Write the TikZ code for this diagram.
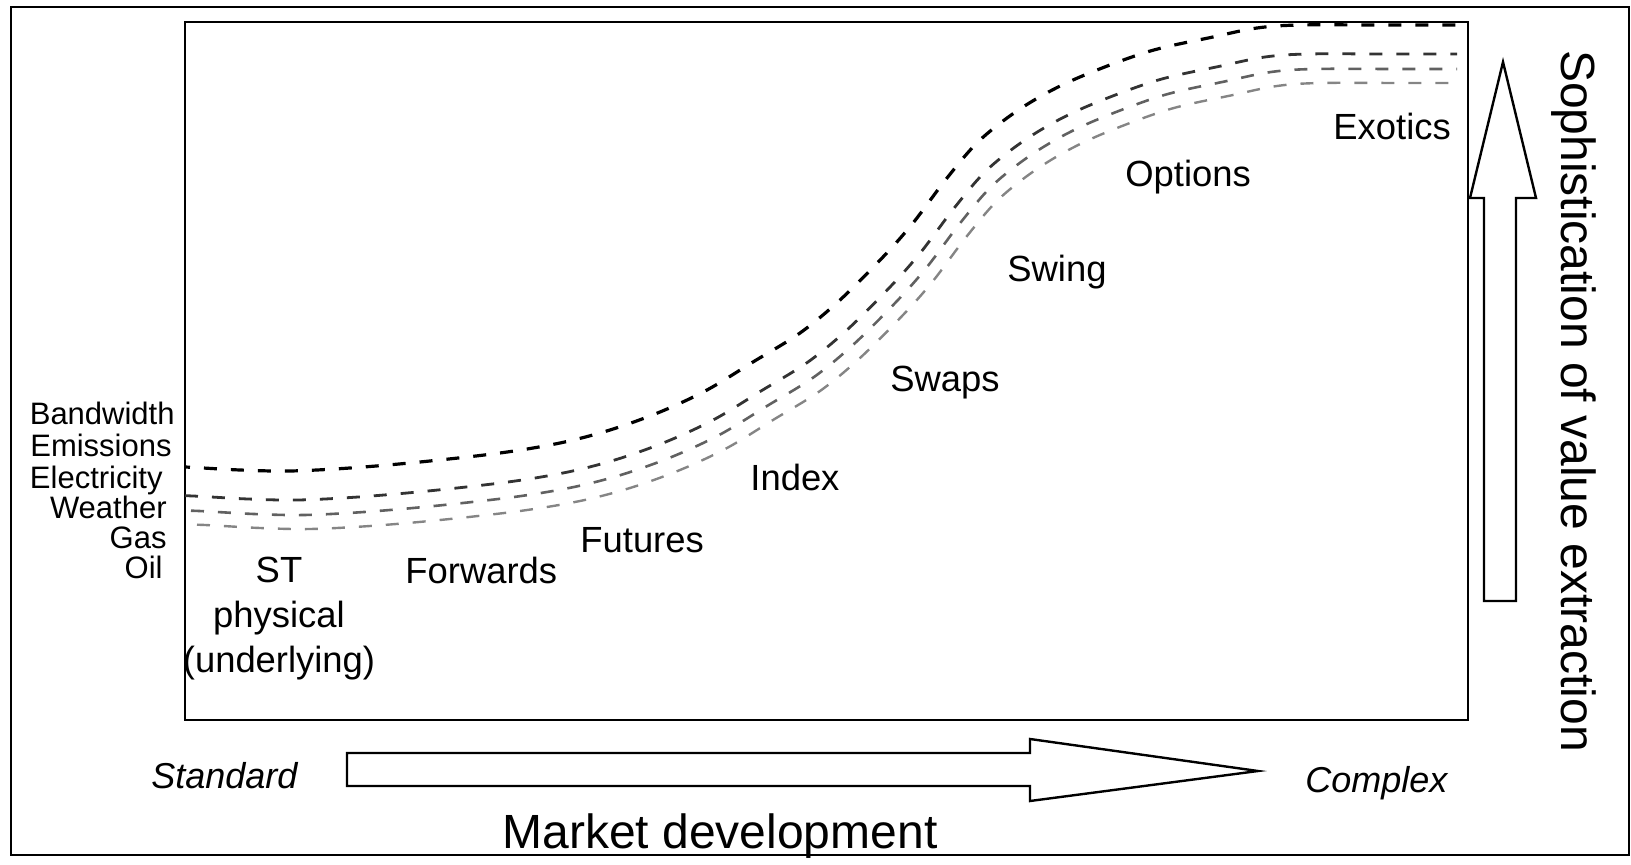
\documentclass[tikz,border=0pt]{standalone}
\usepackage{fontspec}
\setmainfont{Liberation Sans}
\tikzset{
  frame/.style={draw=black, line width=1pt},
  bigarrow/.style={draw=black, line width=1.2pt, fill=white, line join=miter},
  lbl/.style={font=\fontsize{18.2}{22.4}\selectfont, inner sep=0pt},
  mkt/.style={font=\fontsize{15.5}{18}\selectfont, inner sep=0pt, anchor=base east},
  axislbl/.style={font=\fontsize{18}{22}\selectfont\itshape, inner sep=0pt, anchor=base west},
  bigtitle/.style={font=\fontsize{24}{28}\selectfont, inner sep=0pt},
  crvA/.style={draw=black, line width=1.6pt, dash pattern=on 6.5pt off 7pt},
  crvB/.style={draw=black!80, line width=1.4pt, dash pattern=on 6.5pt off 7pt},
  crvC/.style={draw=black!62, line width=1.3pt, dash pattern=on 6.5pt off 7pt},
  crvD/.style={draw=black!48, line width=1.2pt, dash pattern=on 6.5pt off 7pt},
}
\def\curvepath{plot[smooth, tension=0.55] coordinates {(150,466) (185,467) (240,470) (290,471) (350,468) (420,462) (500,453) (560,443) (610,430) (660,412) (707,390) (753,362) (800,333) (840,300) (883,257) (913,223) (947,178) (980,140) (1023,107) (1073,80) (1147,52) (1213,37) (1257,28) (1300,25) (1380,25) (1480,25)}}
\begin{document}
\begin{tikzpicture}[x=0.5pt, y=-0.5pt]
\useasboundingbox (0,0) rectangle (1631,865);
% frames
\draw[frame] (11,7) rectangle (1629,855);
\draw[frame] (185,22) rectangle (1468,720);
% curves
\begin{scope}
  \clip (185,0) rectangle (1457,865);
  \draw[crvA] \curvepath;
  \begin{scope}[shift={(8,29)}] \draw[crvB] \curvepath; \end{scope}
  \begin{scope}[shift={(14,44)}] \draw[crvC] \curvepath; \end{scope}
  \begin{scope}[shift={(20,58)}] \draw[crvD] \curvepath; \end{scope}
\end{scope}
% market labels
\node[mkt] (bw) at (175,425) {Bandwidth};
\node[mkt] (em) at (172,457) {Emissions};
\node[mkt] (el) at (163,488) {Electricity};
\node[mkt] (we) at (167,518) {Weather};
\node[mkt] (ga) at (167,548) {Gas};
\node[mkt] (oi) at (163,578) {Oil};
% product labels
\node[lbl, align=center, anchor=base] (st) at (279,672) {ST\\physical\\(underlying)};
\node[lbl, anchor=base west] (fw) at (405,583) {Forwards};
\node[lbl, anchor=base west] (fu) at (580,552) {Futures};
\node[lbl, anchor=base west] (ix) at (750,490) {Index};
\node[lbl, anchor=base west] (sw) at (890,392) {Swaps};
\node[lbl, anchor=base west] (sg) at (1007,282) {Swing};
\node[lbl, anchor=base west] (op) at (1125,187) {Options};
\node[lbl, anchor=base west] (ex) at (1333,140) {Exotics};
% horizontal arrow
\draw[bigarrow] (347,753) -- (1030,753) -- (1030,739) -- (1258,771) -- (1030,801) -- (1030,786) -- (347,786) -- cycle;
\node[axislbl] (std) at (151,788) {Standard};
\node[axislbl] (cpx) at (1305,792) {Complex};
\node[bigtitle, anchor=base] (md) at (720,848) {Market development};
% vertical arrow
\draw[bigarrow] (1484,601) -- (1484,198) -- (1470,198) -- (1503,62) -- (1536,198) -- (1516,198) -- (1516,601) -- cycle;
\node[bigtitle, rotate=-90] (sop) at (1574,401) {Sophistication of value extraction};
\end{tikzpicture}
\end{document}
